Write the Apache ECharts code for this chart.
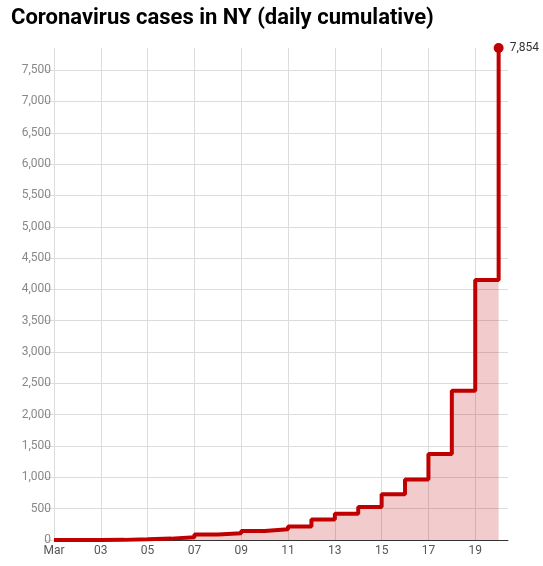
<!DOCTYPE html>
<html>
  <head>
    <meta charset="utf-8" />
    <script src="https://cdn.jsdelivr.net/npm/echarts@6/dist/echarts.min.js"></script>
  </head>
  <body>
    <style>
      #main, html, body {
        width: 100%;
        height: 100%;
        margin: 0;
        overflow: hidden;
        background: #fff;
      }
    </style>
    <div id="main"></div>
    <script type="text/javascript">
      // day of March and cumulative cases
      var days = [1, 2, 3, 4, 5, 6, 7, 8, 9, 10, 11, 12, 13, 14, 15, 16, 17, 18, 19, 20];
      var cases = [1, 1, 2, 11, 22, 44, 89, 106, 142, 173, 217, 326, 421, 525, 732, 967, 1374, 2382, 4152, 7854];

      var myChart = echarts.init(document.getElementById('main'));
      window.addEventListener('resize', function () {
        myChart.resize();
      });

      var points = days.map(function (d, i) { return [d, cases[i]]; });
      var last = points.length - 1;

      var option = {
        animation: false,
        textStyle: { fontFamily: 'Roboto' },
        title: {
          text: 'Coronavirus cases in NY (daily cumulative)',
          left: 6,
          top: 2,
          textStyle: { fontFamily: 'Roboto', fontSize: 22, fontWeight: 'bold', color: '#000' }
        },
        grid: { left: 54, right: 35, top: 48, bottom: 26 },
        xAxis: {
          type: 'value',
          min: 1,
          max: 20.4,
          interval: 2,
          axisLine: { show: true, lineStyle: { color: '#333', width: 1 } },
          axisTick: { show: false },
          axisLabel: {
            color: '#555',
            fontSize: 12,
            margin: 5,
            showMaxLabel: false,
            formatter: function (v) {
              if (v === 1) return 'Mar';
              return (v < 10 ? '0' : '') + v;
            }
          },
          splitLine: { show: true, showMaxLine: false, lineStyle: { color: '#dcdcdc' } }
        },
        yAxis: {
          type: 'value',
          min: 0,
          max: 7854,
          interval: 500,
          axisLine: { show: false },
          axisTick: { show: true, length: 10, lineStyle: { color: '#dcdcdc' } },
          axisLabel: {
            color: '#888',
            fontSize: 12,
            margin: 3,
            showMaxLabel: false,
            formatter: function (v) { return v.toLocaleString('en-US'); }
          },
          splitLine: { show: true, showMaxLine: false, lineStyle: { color: '#dcdcdc' } }
        },
        series: [
          {
            type: 'line',
            step: 'end',
            data: points,
            lineStyle: { color: '#c00000', width: 4 },
            itemStyle: { color: '#c00000' },
            areaStyle: { color: 'rgba(192, 0, 0, 0.2)', opacity: 1 },
            symbol: function (val, params) { return params.dataIndex === last ? 'circle' : 'none'; },
            symbolSize: 10,
            label: {
              show: true,
              position: 'right',
              distance: 6,
              color: '#333',
              fontSize: 12,
              formatter: function (p) {
                return p.dataIndex === last ? p.value[1].toLocaleString('en-US') : '';
              }
            }
          }
        ]
      };

      myChart.setOption(option);
    </script>
  </body>
</html>
